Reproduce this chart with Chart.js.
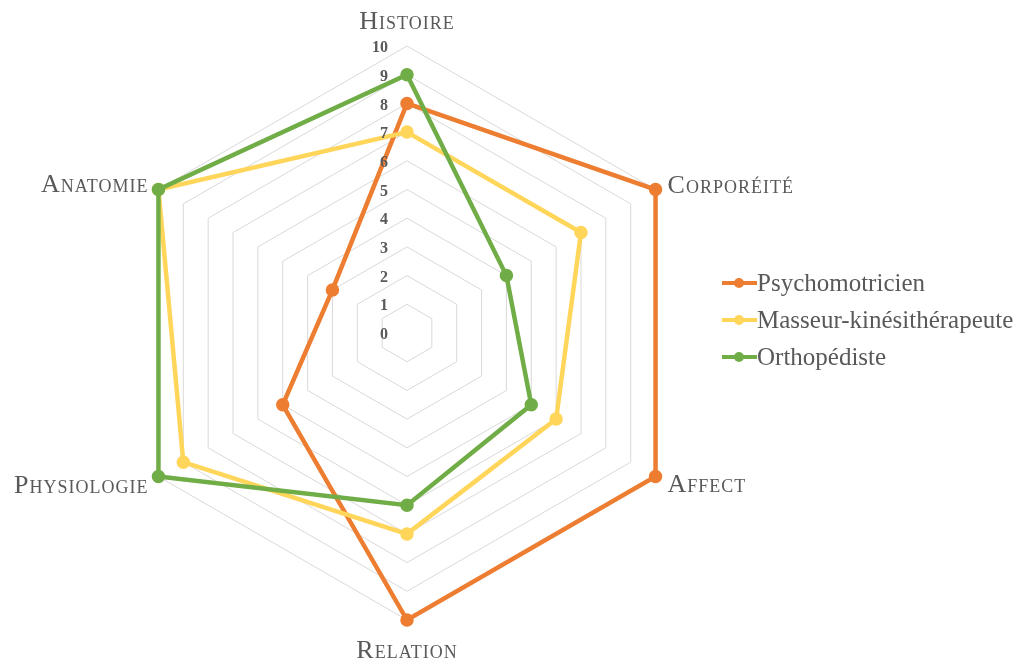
<!DOCTYPE html>
<html>
<head>
<meta charset="utf-8">
<script src="https://cdn.jsdelivr.net/npm/chart.js@4"></script>
<style>
  body { margin: 0; background: #fff; }
  #wrap { position: relative; width: 1023px; height: 662px; }
  #legend { position: absolute; left: 722px; top: 264px; font-family: 'Liberation Serif', serif; font-size: 25px; color: #595959; }
  #legend div { display: flex; align-items: center; height: 37px; }
  .mk { position: relative; width: 35px; height: 12px; margin-right: 0; }
  .mk .ln { position: absolute; left: 0; right: 0; top: 4px; height: 4px; }
  .mk .dt { position: absolute; left: 12px; top: 1px; width: 10px; height: 10px; border-radius: 50%; }
</style>
</head>
<body>
<div id="wrap">
  <canvas id="radarChart" width="1023" height="662"></canvas>
  <div id="legend"></div>
</div>
<script>
// categories / séries
var categories = ['Histoire', 'Corporéité', 'Affect', 'Relation', 'Physiologie', 'Anatomie'];
var psychomotricien = [8, 10, 10, 10, 5, 3];
var masseurKine = [7, 7, 6, 7, 9, 10];
var orthopediste = [9, 4, 5, 6, 10, 10];
var seriesNames = ['Psychomotricien', 'Masseur-kinésithérapeute', 'Orthopédiste'];
var tickValues = [0, 1, 2, 3, 4, 5, 6, 7, 8, 9, 10];

var colors = ['#ED7D31', '#FFD55A', '#70AD47'];
var textColor = '#595959';

// labels des ticks à gauche de l'axe vertical + libellés des axes (petites majuscules)
var labelPlugin = {
    id: 'radarLabels',
    afterDatasetsDraw: function(chart) {
        var scale = chart.scales.r;
        var ctx = chart.ctx;
        ctx.save();
        ctx.font = 'bold 16px "Liberation Serif", serif';
        ctx.fillStyle = textColor;
        ctx.textAlign = 'right';
        ctx.textBaseline = 'middle';
        tickValues.forEach(function(v) {
            var d = scale.getDistanceFromCenterForValue(v);
            ctx.fillText(String(v), scale.xCenter - 19, scale.yCenter - d + 2);
        });

        // décalages des libellés : [dx, dy, align]
        var offs = [[0, -17, 'center'], [12, 3, 'left'], [12, 15, 'left'],
                    [0, 38, 'center'], [-10, 16, 'right'], [-10, 2, 'right']];
        ctx.font = 'small-caps 26px "Liberation Serif", serif';
        ctx.letterSpacing = '1px';
        ctx.textBaseline = 'alphabetic';
        var rMax = scale.getDistanceFromCenterForValue(scale.max);
        categories.forEach(function(lbl, i) {
            var p = scale.getPointPosition(i, rMax);
            ctx.textAlign = offs[i][2];
            ctx.fillText(lbl, p.x + offs[i][0], p.y + offs[i][1]);
        });
        ctx.restore();
    }
};

var ctx = document.getElementById('radarChart').getContext('2d');
var radarChart = new Chart(ctx, {
    type: 'radar',
    data: {
        labels: categories,
        datasets: [
            { label: seriesNames[0], data: psychomotricien, order: 3 },
            { label: seriesNames[1], data: masseurKine, order: 2 },
            { label: seriesNames[2], data: orthopediste, order: 1 }
        ].map(function(ds, i) {
            ds.borderColor = colors[i];
            ds.backgroundColor = colors[i];
            ds.pointBackgroundColor = colors[i];
            ds.pointBorderColor = colors[i];
            ds.borderWidth = 4.5;
            ds.pointRadius = 4.5;
            ds.fill = false;
            return ds;
        })
    },
    options: {
        responsive: false,
        animation: false,
        layout: { padding: { top: 46, bottom: 42, left: 120, right: 329 } },
        plugins: {
            legend: { display: false },
            tooltip: { enabled: false }
        },
        scales: {
            r: {
                min: 0,
                max: 10,
                ticks: { display: false, stepSize: 1 },
                angleLines: { display: false },
                grid: { color: '#d9d9d9', lineWidth: 1 },
                pointLabels: { display: false }
            }
        }
    },
    plugins: [labelPlugin]
});

// légende HTML
var legendEl = document.getElementById('legend');
radarChart.data.datasets.forEach(function(ds) {
    var row = document.createElement('div');
    row.innerHTML = '<span class="mk"><span class="ln" style="background:' + ds.borderColor + '"></span>' +
        '<span class="dt" style="background:' + ds.borderColor + '"></span></span>' + ds.label;
    legendEl.appendChild(row);
});
</script>
</body>
</html>
